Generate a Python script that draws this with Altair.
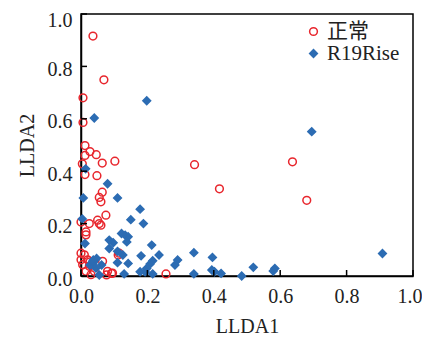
import altair as alt
import pandas as pd

# ---- data ----
normal_x = [0.036, 0.069, 0.006, 0.006, 0.012, 0.027, 0.012, 0.046, 0.004, 0.064,
            0.102, 0.012, 0.048, 0.342, 0.417, 0.637, 0.680, 0.064, 0.055, 0.060,
            0.075, 0.050, 0.055, 0.060, 0.000, 0.025, 0.015, 0.015, 0.256, 0.115,
            0.112, 0.000, 0.010, 0.000, 0.020, 0.005, 0.025, 0.015, 0.040, 0.030,
            0.080, 0.095, 0.065, 0.077, 0.092, 0.027]
normal_y = [0.916, 0.749, 0.680, 0.586, 0.498, 0.475, 0.460, 0.463, 0.428, 0.431,
            0.438, 0.387, 0.383, 0.425, 0.333, 0.436, 0.289, 0.320, 0.300, 0.283,
            0.232, 0.213, 0.200, 0.194, 0.206, 0.200, 0.168, 0.157, 0.008, 0.087,
            0.080, 0.087, 0.081, 0.062, 0.062, 0.043, 0.037, 0.018, 0.018, 0.005,
            0.018, 0.011, 0.056, 0.004, 0.010, 0.054]

rise_x = [0.040, 0.198, 0.695, 0.908, 0.519, 0.579, 0.584, 0.484,
          0.014, 0.080, 0.007, 0.110, 0.178, 0.004, 0.150, 0.188,
          0.122, 0.133, 0.142, 0.012, 0.085, 0.097, 0.138, 0.213,
          0.085, 0.126, 0.181, 0.235, 0.340, 0.396, 0.291, 0.283,
          0.216, 0.208, 0.198, 0.193, 0.216, 0.142, 0.110, 0.037,
          0.047, 0.027, 0.037, 0.055, 0.130, 0.340, 0.394, 0.402,
          0.422, 0.062, 0.178, 0.045, 0.035, 0.110]
rise_y = [0.603, 0.669, 0.551, 0.086, 0.033, 0.019, 0.029, 0.000,
          0.409, 0.352, 0.298, 0.298, 0.255, 0.218, 0.215, 0.200,
          0.162, 0.156, 0.150, 0.124, 0.137, 0.127, 0.130, 0.118,
          0.105, 0.080, 0.077, 0.080, 0.089, 0.071, 0.061, 0.042,
          0.058, 0.046, 0.029, 0.016, 0.008, 0.048, 0.051, 0.061,
          0.067, 0.042, 0.051, 0.004, 0.008, 0.008, 0.023, 0.016,
          0.010, 0.042, 0.016, 0.030, 0.056, 0.094]

tick_values = [0.0, 0.2, 0.4, 0.6, 0.8, 1.0]
series_names = ["正常", "R19Rise"]
series_stroke = ["#e8262d", "#2c6cb3"]
series_fill = ["transparent", "#2c6cb3"]
series_shape = ["circle", "diamond"]

df = pd.DataFrame({
    "x": normal_x + rise_x,
    "y": normal_y + rise_y,
    "series": [series_names[0]] * len(normal_x) + [series_names[1]] * len(rise_x),
})
ticks_df = pd.DataFrame({"t": tick_values})

W, H = 332, 262
FONT = "Liberation Serif, Noto Sans CJK SC, serif"

xscale = alt.Scale(domain=[0, 1], nice=False, zero=False)
yscale = alt.Scale(domain=[0, 1], nice=False, zero=False)

x_axis = alt.Axis(
    title="LLDA1", values=tick_values, format=".1f", labelFlush=False,
    labelAlign={"condition": {"test": "datum.value >= 1", "value": "right"}, "value": "center"},
    labelOffset={"condition": {"test": "datum.value >= 1", "value": 9}, "value": 0},
    ticks=False, grid=False, labelPadding=10, titlePadding=10)
y_axis = alt.Axis(
    title="LLDA2", values=tick_values, format=".1f", labelFlush=False,
    labelOffset={"condition": {"test": "datum.value >= 1", "value": 6}, "value": 3},
    ticks=False, grid=False, labelPadding=9, titlePadding=10)

legend = alt.Legend(title=None, orient="none", legendX=222, legendY=7,
                    labelFont=FONT, labelFontSize=21, labelColor="#222",
                    symbolSize=60, symbolStrokeWidth=1.5, rowPadding=0,
                    labelOffset=3, padding=0)

points = alt.Chart(df).mark_point(size=60, strokeWidth=1.5, opacity=1).encode(
    x=alt.X("x:Q", scale=xscale, axis=x_axis),
    y=alt.Y("y:Q", scale=yscale, axis=y_axis),
    stroke=alt.Stroke("series:N", scale=alt.Scale(domain=series_names, range=series_stroke), legend=legend),
    fill=alt.Fill("series:N", scale=alt.Scale(domain=series_names, range=series_fill), legend=legend),
    shape=alt.Shape("series:N", scale=alt.Scale(domain=series_names, range=series_shape), legend=legend),
)

xticks = alt.Chart(ticks_df).mark_rule(color="black", strokeWidth=1.5).encode(
    x=alt.X("t:Q", scale=xscale, axis=x_axis),
    y=alt.value(H), y2=alt.value(H - 6),
)
yticks = alt.Chart(ticks_df).mark_rule(color="black", strokeWidth=1.5).encode(
    y=alt.Y("t:Q", scale=yscale, axis=y_axis),
    x=alt.value(0), x2=alt.value(6),
)

chart = alt.layer(points, xticks, yticks).properties(
    width=W, height=H,
    autosize=alt.AutoSizeParams(type="none"),
    padding={"left": 73, "top": 6, "right": 9, "bottom": 60},
    background="white",
).configure_view(
    stroke="black", strokeWidth=1.5
).configure_axis(
    domainColor="black", domainWidth=1.5,
    labelFont=FONT, labelFontSize=20, labelColor="#222",
    titleFont=FONT, titleFontSize=20, titleFontWeight="normal", titleColor="#222",
)

chart.save("out.html", embed_options={"renderer": "svg", "actions": False})
